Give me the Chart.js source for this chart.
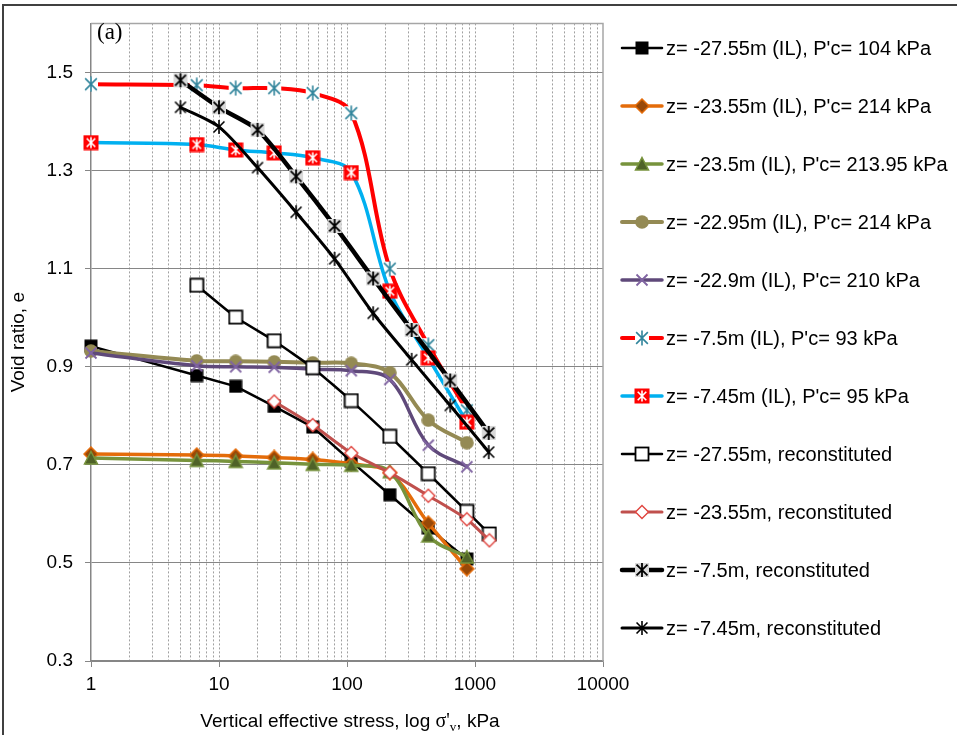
<!DOCTYPE html>
<html>
<head>
<meta charset="utf-8">
<script src="https://cdn.jsdelivr.net/npm/chart.js@4.4.1/dist/chart.umd.min.js"></script>
<style>
  html, body { margin: 0; padding: 0; background: #fff; }
  #wrap { width: 957px; height: 735px; position: relative; }
</style>
</head>
<body>
<div id="wrap"><canvas id="chart" width="957" height="735"></canvas></div>
<script>
// --- DATA ---
const stressIL     = [1, 6.7, 13.5, 27, 54, 108, 216, 432, 864];
const stressRec1   = [6.7, 13.5, 27, 54, 108, 216, 432, 864, 1296];
const stressRec2   = [27, 54, 108, 216, 432, 864, 1296];
const stressRec3   = [5, 10, 20, 40, 80, 160, 320, 640, 1280];

const e_2755_IL  = [0.942, 0.882, 0.860, 0.819, 0.777, 0.707, 0.639, 0.571, 0.508];
const e_2355_IL  = [0.722, 0.720, 0.718, 0.715, 0.711, 0.702, 0.684, 0.581, 0.488];
const e_235_IL   = [0.714, 0.709, 0.707, 0.704, 0.701, 0.699, 0.686, 0.555, 0.512];
const e_2295_IL  = [0.932, 0.912, 0.911, 0.910, 0.908, 0.907, 0.888, 0.791, 0.745];
const e_229_IL   = [0.928, 0.902, 0.900, 0.899, 0.895, 0.892, 0.874, 0.740, 0.696];
const e_75_IL    = [1.476, 1.474, 1.468, 1.468, 1.458, 1.417, 1.100, 0.944, 0.811];
const e_745_IL   = [1.357, 1.353, 1.342, 1.336, 1.326, 1.296, 1.054, 0.918, 0.787];
const e_2755_rec = [1.066, 1.001, 0.953, 0.898, 0.831, 0.758, 0.682, 0.605, 0.559];
const e_2355_rec = [0.829, 0.781, 0.724, 0.684, 0.637, 0.589, 0.546];
const e_75_rec   = [1.484, 1.429, 1.383, 1.288, 1.187, 1.080, 0.975, 0.872, 0.765];
const e_745_rec  = [1.429, 1.389, 1.306, 1.215, 1.120, 1.009, 0.914, 0.821, 0.726];

const seriesNames = [
  "z= -27.55m (IL), P'c= 104 kPa",
  "z= -23.55m (IL), P'c= 214 kPa",
  "z= -23.5m (IL), P'c= 213.95 kPa",
  "z= -22.95m (IL), P'c= 214 kPa",
  "z= -22.9m (IL), P'c= 210 kPa",
  "z= -7.5m (IL), P'c= 93 kPa",
  "z= -7.45m (IL), P'c= 95 kPa",
  "z= -27.55m, reconstituted",
  "z= -23.55m, reconstituted",
  "z= -7.5m, reconstituted",
  "z= -7.45m, reconstituted"
];
const seriesX = [stressIL, stressIL, stressIL, stressIL, stressIL, stressIL, stressIL,
                 stressRec1, stressRec2, stressRec3, stressRec3];
const seriesY = [e_2755_IL, e_2355_IL, e_235_IL, e_2295_IL, e_229_IL, e_75_IL, e_745_IL,
                 e_2755_rec, e_2355_rec, e_75_rec, e_745_rec];

const yTicks = [0.3, 0.5, 0.7, 0.9, 1.1, 1.3, 1.5];
const xLabels = [1, 10, 100, 1000, 10000];

// --- MARKERS ---
function mk(size, draw) {
  const c = document.createElement('canvas');
  c.width = c.height = size;
  draw(c.getContext('2d'), size / 2, size);
  return c;
}
function asterisk(g, m, r, color, lw) {
  const d = r * 0.78;
  g.strokeStyle = color; g.lineWidth = lw; g.lineCap = 'butt';
  g.beginPath();
  g.moveTo(m - d, m - d); g.lineTo(m + d, m + d);
  g.moveTo(m + d, m - d); g.lineTo(m - d, m + d);
  g.moveTo(m, m - r); g.lineTo(m, m + r);
  g.stroke();
}
function diamond(g, m, r) {
  g.beginPath();
  g.moveTo(m, m - r); g.lineTo(m + r, m); g.lineTo(m, m + r); g.lineTo(m - r, m);
  g.closePath();
}
const markers = {
  sqBlack: mk(14, g => { g.fillStyle = '#000'; g.fillRect(0.5, 0.5, 13, 13); }),
  diaOrange: mk(16, (g, m) => {
    diamond(g, m, 7); g.fillStyle = '#984807'; g.fill();
    g.strokeStyle = '#E46C0A'; g.lineWidth = 1.5; g.stroke();
  }),
  triGreen: mk(16, g => {
    g.beginPath(); g.moveTo(8, 1.5); g.lineTo(14.5, 14); g.lineTo(1.5, 14); g.closePath();
    g.fillStyle = '#4F6228'; g.fill(); g.strokeStyle = '#77933C'; g.lineWidth = 1.5; g.stroke();
  }),
  cirKhaki: mk(14, (g, m) => {
    g.beginPath(); g.arc(m, m, 6.8, 0, Math.PI * 2); g.fillStyle = '#948A54'; g.fill();
  }),
  xPurple: mk(14, (g, m) => {
    g.strokeStyle = '#8064A2'; g.lineWidth = 1.8;
    g.beginPath(); g.moveTo(1.5, 1.5); g.lineTo(12.5, 12.5); g.moveTo(12.5, 1.5); g.lineTo(1.5, 12.5); g.stroke();
  }),
  astTeal: mk(16, (g, m) => {
    g.fillStyle = '#fff'; g.fillRect(1, 1, 14, 14);
    asterisk(g, m, 7.5, '#31859C', 1.6);
  }),
  sqRedAst: mk(16, (g, m) => {
    g.fillStyle = '#FF0000'; g.fillRect(0.5, 0.5, 15, 15);
    asterisk(g, m, 5.5, '#fff', 1.6);
  }),
  sqOpen: mk(16, g => {
    g.fillStyle = '#fff'; g.fillRect(1.5, 1.5, 13, 13);
    g.strokeStyle = '#000'; g.lineWidth = 1.8; g.strokeRect(1.5, 1.5, 13, 13);
  }),
  diaOpen: mk(16, (g, m) => {
    diamond(g, m, 6.5); g.fillStyle = '#fff'; g.fill();
    g.strokeStyle = '#E0443E'; g.lineWidth = 1.4; g.stroke();
  }),
  astGray: mk(16, (g, m) => {
    g.fillStyle = '#D9D9D9'; g.fillRect(1, 1, 14, 14);
    asterisk(g, m, 7, '#000', 1.8);
  }),
  astBlack: mk(16, (g, m) => asterisk(g, m, 7, '#000', 1.6))
};

const styles = [
  { color: '#000000', width: 2.5, marker: 'sqBlack',   tension: 0 },
  { color: '#E46C0A', width: 3.5, marker: 'diaOrange', tension: 0.35 },
  { color: '#77933C', width: 3.5, marker: 'triGreen',  tension: 0.35 },
  { color: '#948A54', width: 4,   marker: 'cirKhaki',  tension: 0.35 },
  { color: '#5F497A', width: 3.5, marker: 'xPurple',   tension: 0.35 },
  { color: '#FF0000', width: 4,   marker: 'astTeal',   tension: 0.35 },
  { color: '#00B0F0', width: 3.5, marker: 'sqRedAst',  tension: 0.35 },
  { color: '#000000', width: 2.5, marker: 'sqOpen',    tension: 0.1 },
  { color: '#C0504D', width: 3,   marker: 'diaOpen',   tension: 0.2 },
  { color: '#000000', width: 4.5, marker: 'astGray',   tension: 0.25 },
  { color: '#000000', width: 3,   marker: 'astBlack',  tension: 0.25 }
];

const datasets = seriesNames.map((name, i) => ({
  label: name,
  data: seriesX[i].map((x, j) => ({ x: x, y: seriesY[i][j] })),
  showLine: true,
  clip: false,
  borderColor: styles[i].color,
  borderWidth: styles[i].width,
  borderCapStyle: 'round',
  borderJoinStyle: 'round',
  tension: styles[i].tension,
  pointStyle: markers[styles[i].marker],
  pointRadius: 7,
  pointHoverRadius: 7,
  order: seriesNames.length - i
}));

// x grid positions: 1..9 in each decade
const xGrid = [];
for (let d = 1; d < 10000; d *= 10) for (let k = 1; k < 10; k++) xGrid.push(k * d);
xGrid.push(10000);

const SANS = '"Liberation Sans", Arial, sans-serif';
const SERIF = '"Liberation Serif", "Times New Roman", serif';

// --- DECORATION: frame, titles, legend ---
const decor = {
  id: 'decor',
  afterDraw(chart) {
    const ctx = chart.ctx;
    const a = chart.chartArea;
    ctx.save();

    // plot area border top/right
    ctx.strokeStyle = '#A6A6A6'; ctx.lineWidth = 1.5;
    ctx.beginPath();
    ctx.moveTo(a.left, a.top); ctx.lineTo(a.right, a.top); ctx.lineTo(a.right, a.bottom);
    ctx.stroke();

    // outer frame (top and left)
    ctx.strokeStyle = '#404040'; ctx.lineWidth = 2;
    ctx.beginPath();
    ctx.moveTo(3, 735); ctx.lineTo(3, 5); ctx.lineTo(957, 5);
    ctx.stroke();

    // (a)
    ctx.fillStyle = '#000';
    ctx.font = '23px ' + SERIF;
    ctx.textAlign = 'left'; ctx.textBaseline = 'middle';
    ctx.fillText('(a)', 97, 33);

    // y title
    ctx.save();
    ctx.translate(19, (a.top + a.bottom) / 2);
    ctx.rotate(-Math.PI / 2);
    ctx.font = '19px ' + SANS;
    ctx.textAlign = 'center'; ctx.textBaseline = 'middle';
    ctx.fillText('Void ratio, e', 0, 0);
    ctx.restore();

    // x title with subscript
    const parts = [
      { t: 'Vertical effective stress, log ', f: '19px ' + SANS, dy: 0 },
      { t: "σ'", f: '20px ' + SERIF, dy: 0 },
      { t: 'v', f: '13px ' + SERIF, dy: 4 },
      { t: ', kPa', f: '19px ' + SANS, dy: 0 }
    ];
    let total = 0;
    parts.forEach(p => { ctx.font = p.f; p.w = ctx.measureText(p.t).width; total += p.w; });
    let x = 350 - total / 2;
    ctx.textAlign = 'left'; ctx.textBaseline = 'alphabetic';
    parts.forEach(p => { ctx.font = p.f; ctx.fillText(p.t, x, 727 + p.dy); x += p.w; });

    // legend
    chart.data.datasets.forEach((ds, i) => {
      const y = 48 + i * 58;
      ctx.strokeStyle = ds.borderColor; ctx.lineWidth = ds.borderWidth;
      ctx.lineCap = 'round';
      ctx.beginPath(); ctx.moveTo(622, y); ctx.lineTo(662, y); ctx.stroke();
      const img = ds.pointStyle;
      ctx.drawImage(img, 642 - img.width / 2, y - img.height / 2);
      ctx.fillStyle = '#000';
      ctx.font = '20px ' + SANS;
      ctx.textAlign = 'left'; ctx.textBaseline = 'middle';
      ctx.fillText(ds.label, 666, y + 1);
    });
    ctx.restore();
  }
};

const chart = new Chart(document.getElementById('chart'), {
  type: 'scatter',
  data: { datasets: datasets },
  options: {
    responsive: false,
    animation: false,
    devicePixelRatio: 1,
    layout: { padding: { left: 0, top: 16, right: 354, bottom: 0 } },
    plugins: { legend: { display: false }, tooltip: { enabled: false } },
    scales: {
      x: {
        type: 'logarithmic',
        min: 1, max: 10000,
        afterFit: s => { s.height = 74; },
        afterBuildTicks: s => { s.ticks = xGrid.map(v => ({ value: v })); },
        grid: {
          color: c => (c.tick && (c.tick.value === 1 || c.tick.value === 10000)) ? 'rgba(0,0,0,0)' : '#A0A0A0',
          lineWidth: 1,
          drawTicks: true,
          tickLength: 6,
          tickBorderDash: [],
          tickColor: c => (c.tick && xLabels.includes(c.tick.value)) ? '#868686' : 'rgba(0,0,0,0)'
        },
        border: { color: '#868686', width: 1.5, dash: [2, 2] },
        ticks: {
          autoSkip: false, maxRotation: 0, padding: 6, color: '#000',
          font: { family: SANS, size: 19 },
          callback: v => xLabels.includes(v) ? String(v) : ''
        }
      },
      y: {
        min: 0.3, max: 1.6,
        afterFit: s => { s.width = 91; },
        afterBuildTicks: s => { s.ticks = yTicks.map(v => ({ value: v })); },
        grid: { color: '#868686', lineWidth: 1, tickLength: 6, tickColor: '#868686' },
        border: { color: '#868686', width: 1.5 },
        ticks: {
          padding: 12, color: '#000',
          font: { family: SANS, size: 19 },
          callback: v => v.toFixed(1)
        }
      }
    }
  },
  plugins: [decor]
});
</script>
</body>
</html>
